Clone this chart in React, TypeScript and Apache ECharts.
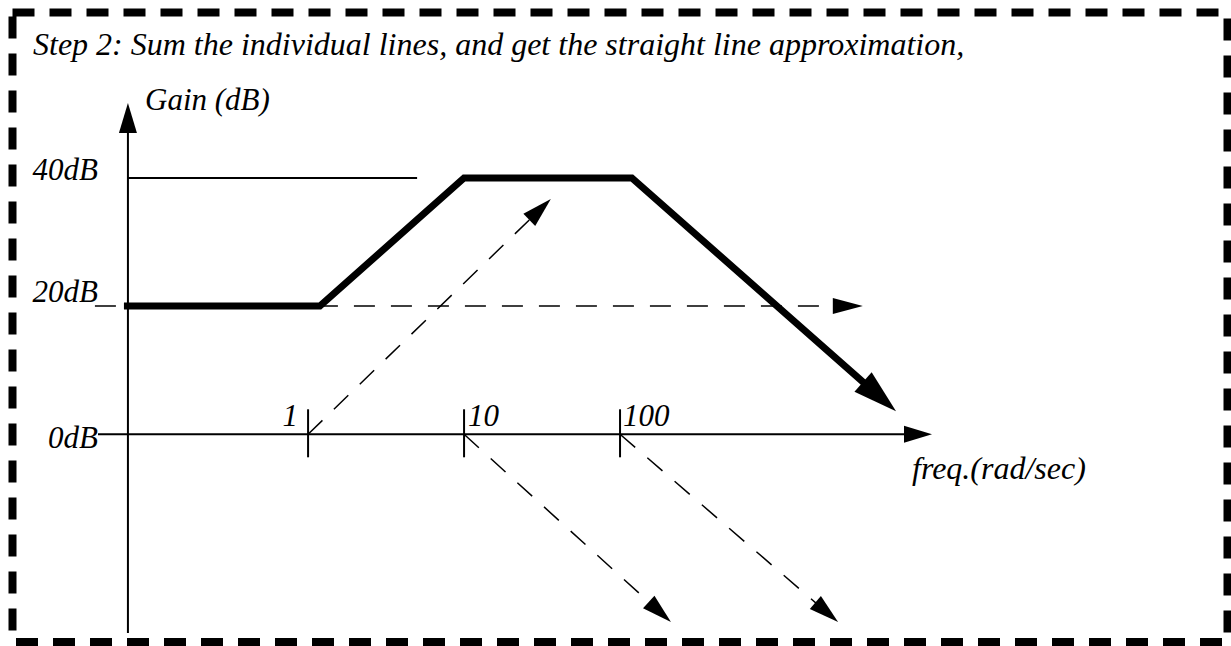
import React, { useEffect, useRef } from "react";
import * as echarts from "echarts";

// Frequency axis decades (rad/sec) and their labels
const decadeTicks = [1, 10, 100];
const decadeLabels = ["1", "10", "100"];

// Gain levels marked beside the vertical axis (dB)
const gainLevels = [0, 20, 40];
const gainLabels = ["0dB", "20dB", "40dB"];

// Straight-line approximation: sum of the individual lines
const sumFreq = [0.066, 1.19, 10, 119, 5880];
const sumGain = [20, 20, 40, 40, 3.6];

// Individual asymptotes
const constFreq = [0.043, 3600];
const constGain = [20, 20];
const zeroFreq = [1, 36];
const zeroGain = [0, 36.7];
const pole1Freq = [10, 212];
const pole1Gain = [0, -29.3];
const pole2Freq = [100, 2500];
const pole2Gain = [0, -29.3];

// 40 dB reference line
const refFreq = [0.07, 5];
const refGain = [40, 40];

// Axis extents
const freqMin = 0.045;
const freqMax = 10000;
const gainMin = -31;
const gainMax = 52;
const gainAxisFreq = 0.07;
const gainAxisTop = 51.7;

// Styling
const FONT = '"Liberation Serif", "Times New Roman", serif';
const LABEL_SIZE = 31;
const tickLabelAlign = ["right", "left", "left"];
const tickLabelDx = [-10, 4, 3];
const gainLabelDy = [14, -4, 2];

type Pt = number[];

function renderItem(_params: any, api: any) {
  const children: any[] = [];
  const pt = (f: number, g: number): Pt => api.coord([f, g]);

  const arrowLine = (
    fs: number[],
    gs: number[],
    lw: number,
    dash: number[] | null,
    headL: number,
    headW: number
  ) => {
    const pts = fs.map((f, i) => pt(f, gs[i]));
    const n = pts.length;
    const tip = pts[n - 1];
    const prev = pts[n - 2];
    const dx = tip[0] - prev[0];
    const dy = tip[1] - prev[1];
    const len = Math.hypot(dx, dy);
    const ux = dx / len;
    const uy = dy / len;
    const bx = tip[0] - ux * headL;
    const by = tip[1] - uy * headL;
    const line = pts.slice(0, n - 1).concat([[bx + ux * 2, by + uy * 2]]);
    children.push({
      type: "polyline",
      silent: true,
      shape: { points: line },
      style: {
        stroke: "#000",
        lineWidth: lw,
        fill: "none",
        lineDash: dash || undefined,
        lineJoin: "miter",
        lineCap: "butt",
      },
    });
    children.push({
      type: "polygon",
      silent: true,
      shape: {
        points: [
          tip,
          [bx - (uy * headW) / 2, by + (ux * headW) / 2],
          [bx + (uy * headW) / 2, by - (ux * headW) / 2],
        ],
      },
      style: { fill: "#000", stroke: "none" },
    });
  };

  const plainLine = (fs: number[], gs: number[], lw: number) => {
    children.push({
      type: "polyline",
      silent: true,
      shape: { points: fs.map((f, i) => pt(f, gs[i])) },
      style: { stroke: "#000", lineWidth: lw, fill: "none" },
    });
  };

  // axes
  arrowLine([freqMin, freqMax], [0, 0], 2, null, 28, 17);
  arrowLine([gainAxisFreq, gainAxisFreq], [gainMin, gainAxisTop], 2, null, 30, 18);

  // 40 dB reference
  plainLine(refFreq, refGain, 2);

  // individual asymptotes (dashed)
  arrowLine(constFreq, constGain, 1.5, [21, 16], 30, 16);
  arrowLine(zeroFreq, zeroGain, 1.5, [20, 16], 30, 17);
  arrowLine(pole1Freq, pole1Gain, 1.5, [20, 16], 30, 17);
  arrowLine(pole2Freq, pole2Gain, 1.5, [20, 16], 30, 17);

  // summed straight-line approximation
  arrowLine(sumFreq, sumGain, 7, null, 44, 26);

  // decade ticks and labels
  decadeTicks.forEach((f, i) => {
    const p = pt(f, 0);
    children.push({
      type: "line",
      silent: true,
      shape: { x1: p[0], y1: p[1] - 25, x2: p[0], y2: p[1] + 23 },
      style: { stroke: "#000", lineWidth: 2 },
    });
    children.push({
      type: "text",
      silent: true,
      x: p[0] + tickLabelDx[i],
      y: p[1] - 18.5,
      style: {
        text: decadeLabels[i],
        fill: "#000",
        fontFamily: FONT,
        fontStyle: "italic",
        fontSize: LABEL_SIZE,
        align: tickLabelAlign[i],
        verticalAlign: "middle",
      },
    });
  });

  // gain level labels
  gainLevels.forEach((g, i) => {
    const p = pt(freqMin, g);
    children.push({
      type: "text",
      silent: true,
      x: p[0],
      y: p[1] + gainLabelDy[i] - 10.5,
      style: {
        text: gainLabels[i],
        fill: "#000",
        fontFamily: FONT,
        fontStyle: "italic",
        fontSize: LABEL_SIZE,
        align: "right",
        verticalAlign: "middle",
      },
    });
  });

  return { type: "group", children };
}

const textStyle = (text: string, size: number) => ({
  text,
  fill: "#000",
  fontFamily: FONT,
  fontStyle: "italic",
  fontSize: size,
  align: "left",
  verticalAlign: "middle",
});

const option: any = {
  animation: false,
  backgroundColor: "#fff",
  grid: { left: 98, top: 101, width: 834, height: 532 },
  xAxis: { type: "log", logBase: 10, min: freqMin, max: freqMax, show: false },
  yAxis: { type: "value", min: gainMin, max: gainMax, show: false },
  series: [
    {
      type: "custom",
      coordinateSystem: "cartesian2d",
      silent: true,
      clip: false,
      data: [[1, 0]],
      renderItem,
    },
  ],
  graphic: [
    {
      type: "rect",
      silent: true,
      shape: { x: 12.5, y: 12.5, width: 1215, height: 629.5 },
      style: { fill: "none", stroke: "#000", lineWidth: 8, lineDash: [22, 15] },
    },
    {
      type: "text",
      silent: true,
      x: 33,
      y: 44.2,
      style: textStyle(
        "Step 2: Sum the individual lines, and get the straight line approximation,",
        32
      ),
    },
    { type: "text", silent: true, x: 145, y: 99.5, style: textStyle("Gain (dB)", 31) },
    { type: "text", silent: true, x: 912, y: 467.5, style: textStyle("freq.(rad/sec)", 32) },
  ],
};

export default function App() {
  const ref = useRef<HTMLDivElement>(null);
  useEffect(() => {
    document.body.style.margin = "0";
    const chart = echarts.init(ref.current!, null, { renderer: "svg" });
    chart.setOption(option);
    return () => chart.dispose();
  }, []);
  return (
    <div
      ref={ref}
      style={{ position: "absolute", left: 0, top: 0, width: 1231, height: 646, background: "#fff" }}
    />
  );
}
